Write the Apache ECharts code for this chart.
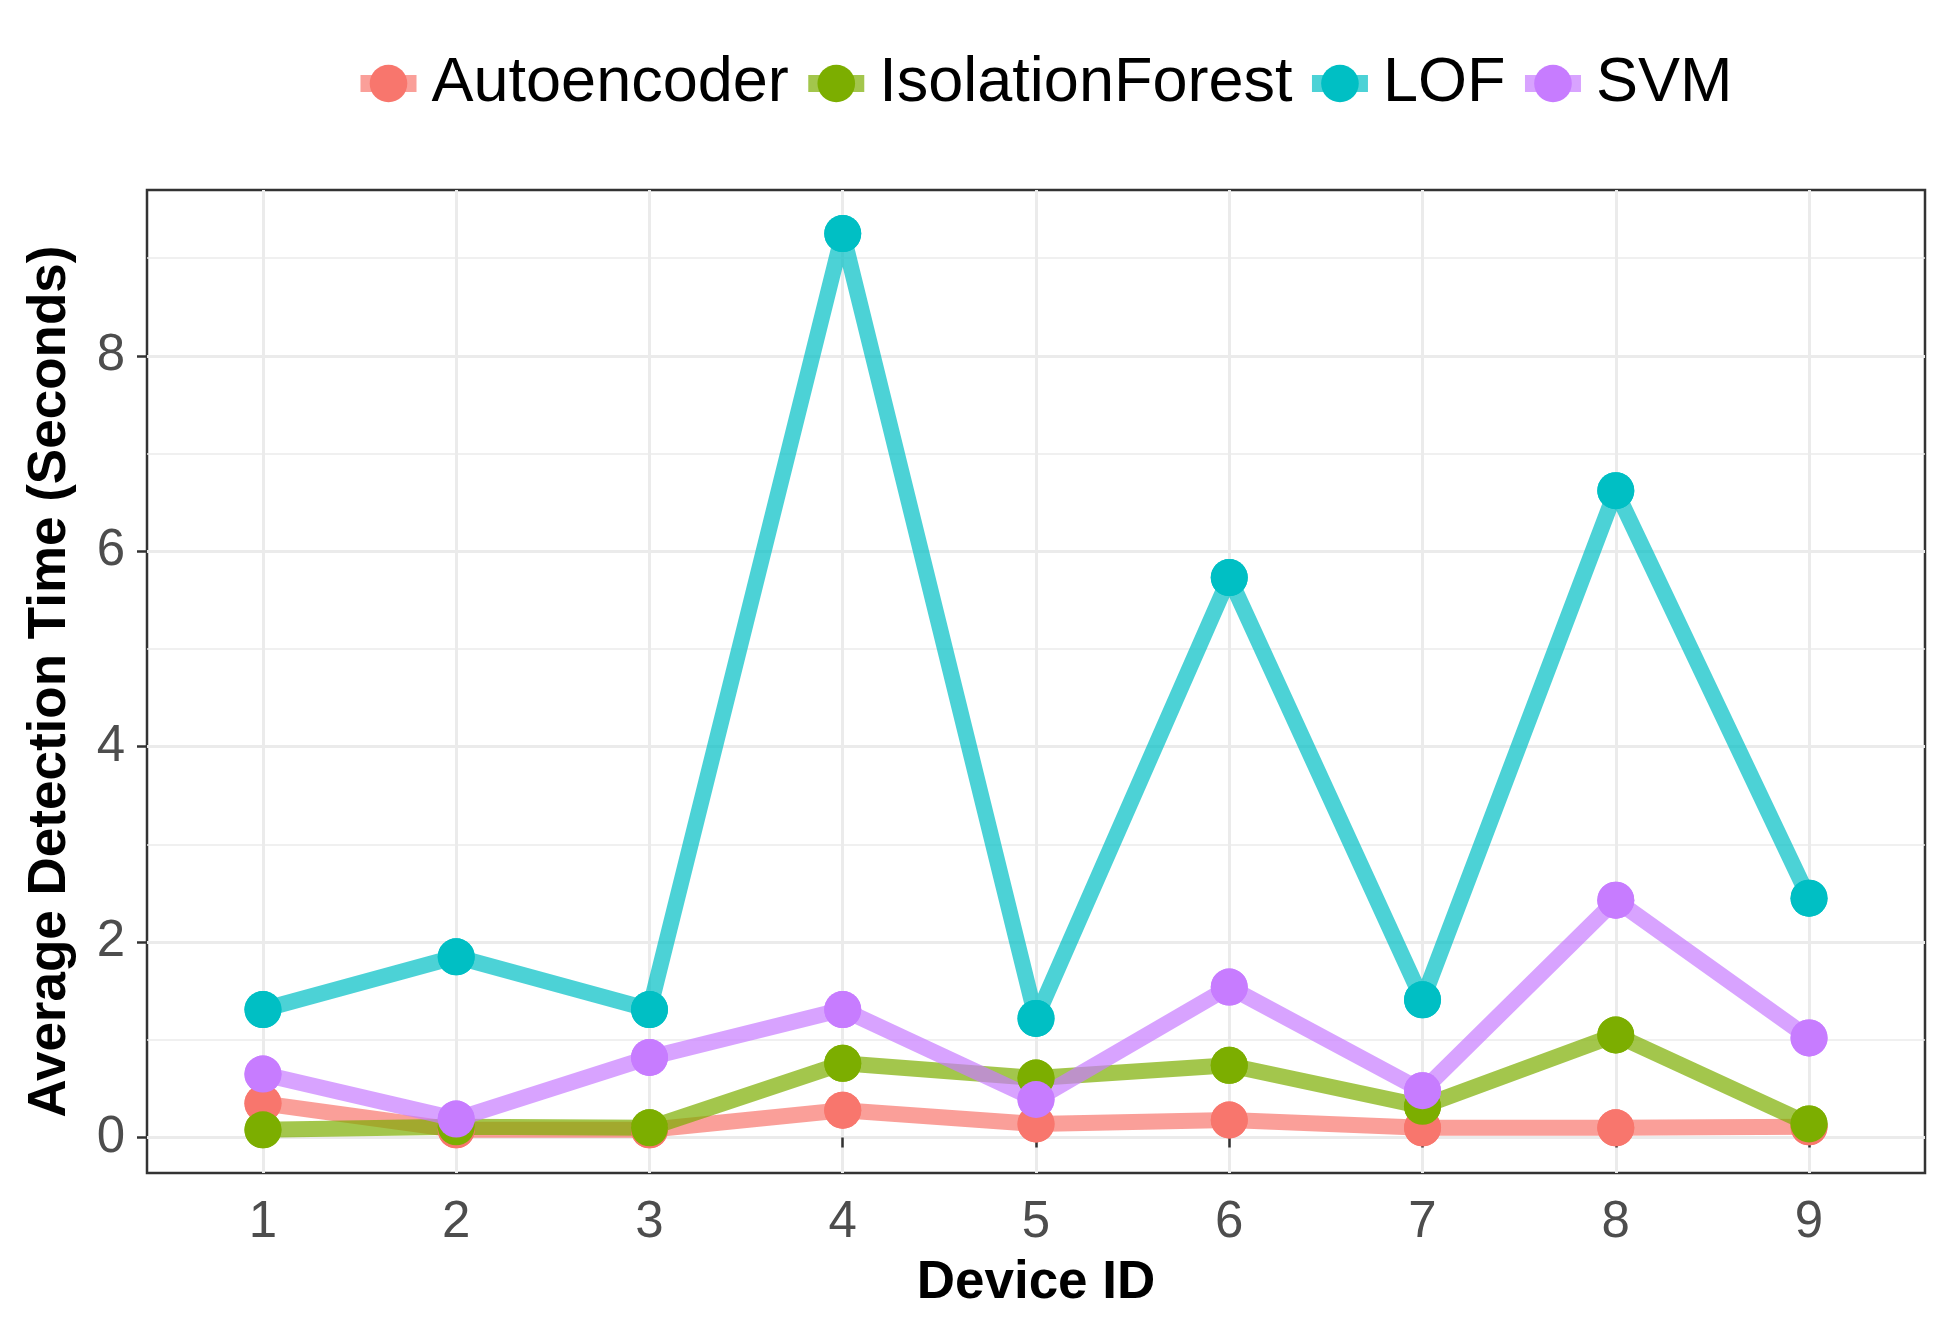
<!DOCTYPE html>
<html>
<head>
<meta charset="utf-8">
<script src="https://cdn.jsdelivr.net/npm/echarts@6/dist/echarts.min.js"></script>
<style>
html,body{margin:0;padding:0;background:#fff;}
#chart{width:1949px;height:1321px;}
</style>
</head>
<body>
<div id="chart"></div>
<script>
const deviceIds = [1, 2, 3, 4, 5, 6, 7, 8, 9];
const seriesNames = ['Autoencoder', 'IsolationForest', 'LOF', 'SVM'];
const autoencoder = [0.35, 0.08, 0.08, 0.28, 0.14, 0.18, 0.10, 0.10, 0.11];
const isolationForest = [0.08, 0.11, 0.10, 0.76, 0.61, 0.74, 0.32, 1.05, 0.14];
const lof = [1.31, 1.85, 1.31, 9.25, 1.22, 5.73, 1.41, 6.62, 2.45];
const svm = [0.65, 0.19, 0.82, 1.31, 0.39, 1.54, 0.48, 2.43, 1.02];
const yTicks = [0, 2, 4, 6, 8];
const yMinorTicks = [1, 3, 5, 7, 9];
const colors = ['#F8766D', '#7CAE00', '#00BFC4', '#C77CFF'];

const values = [autoencoder, isolationForest, lof, svm];
const FONT = 'Liberation Sans, Arial, sans-serif';
const yMin = -0.362, yMax = 9.696;

const chart = echarts.init(document.getElementById('chart'));

const lineSeries = seriesNames.map((name, i) => ({
  name: name,
  type: 'line',
  data: deviceIds.map((d, j) => [d, values[i][j]]),
  symbol: 'circle',
  symbolSize: 37,
  showSymbol: true,
  z: 2,
  itemStyle: { color: colors[i] },
  lineStyle: { color: colors[i], width: 16, opacity: 0.7 },
  emphasis: { disabled: true },
  silent: true
}));
const pointSeries = seriesNames.map((name, i) => ({
  name: name,
  type: 'scatter',
  data: deviceIds.map((d, j) => [d, values[i][j]]),
  symbol: 'circle',
  symbolSize: 37,
  z: 3,
  itemStyle: { color: colors[i], opacity: 1 },
  emphasis: { disabled: true },
  silent: true
}));

chart.setOption({
  animation: false,
  backgroundColor: '#ffffff',
  color: colors,
  legend: {
    data: seriesNames,
    left: 352,
    top: 52,
    padding: 0,
    itemWidth: 56,
    itemHeight: 47,
    itemGap: 11,
    selectedMode: false,
    lineStyle: { width: 17, opacity: 0.7 },
    textStyle: { fontFamily: FONT, fontSize: 63, color: '#000', padding: [0, 0, 0, 10] }
  },
  grid: {
    left: 147, right: 24, top: 190, bottom: 148,
    show: true, borderColor: '#333333', borderWidth: 2.5, backgroundColor: 'transparent'
  },
  xAxis: {
    type: 'value',
    min: 0.4, max: 9.6,
    name: 'Device ID',
    nameLocation: 'middle',
    nameGap: 84,
    nameTextStyle: { fontFamily: FONT, fontSize: 53, fontWeight: 'bold', color: '#000' },
    axisLine: { show: false },
    axisTick: { show: true, length: 10, lineStyle: { color: '#333333', width: 2.5 }, customValues: deviceIds },
    axisLabel: { fontFamily: FONT, fontSize: 51, color: '#4D4D4D', margin: 24, customValues: deviceIds },
    splitLine: { show: true, lineStyle: { color: '#EBEBEB', width: 3 } }
  },
  yAxis: [{
    type: 'value',
    min: yMin, max: yMax,
    name: 'Average Detection Time (Seconds)',
    nameLocation: 'middle',
    nameGap: 70,
    nameTextStyle: { fontFamily: FONT, fontSize: 53, fontWeight: 'bold', color: '#000' },
    axisLine: { show: false },
    axisTick: { show: true, length: 10, lineStyle: { color: '#333333', width: 2.5 }, customValues: yTicks },
    axisLabel: { fontFamily: FONT, fontSize: 51, color: '#4D4D4D', margin: 22, customValues: yTicks },
    splitLine: { show: true, lineStyle: { color: '#EBEBEB', width: 3 } }
  }, {
    type: 'value',
    min: yMin, max: yMax,
    position: 'left',
    axisLine: { show: false },
    axisTick: { show: false, customValues: yMinorTicks },
    axisLabel: { show: false, customValues: yMinorTicks },
    splitLine: { show: true, lineStyle: { color: '#EBEBEB', width: 1.5 } }
  }],
  series: lineSeries.concat(pointSeries)
});
</script>
</body>
</html>
